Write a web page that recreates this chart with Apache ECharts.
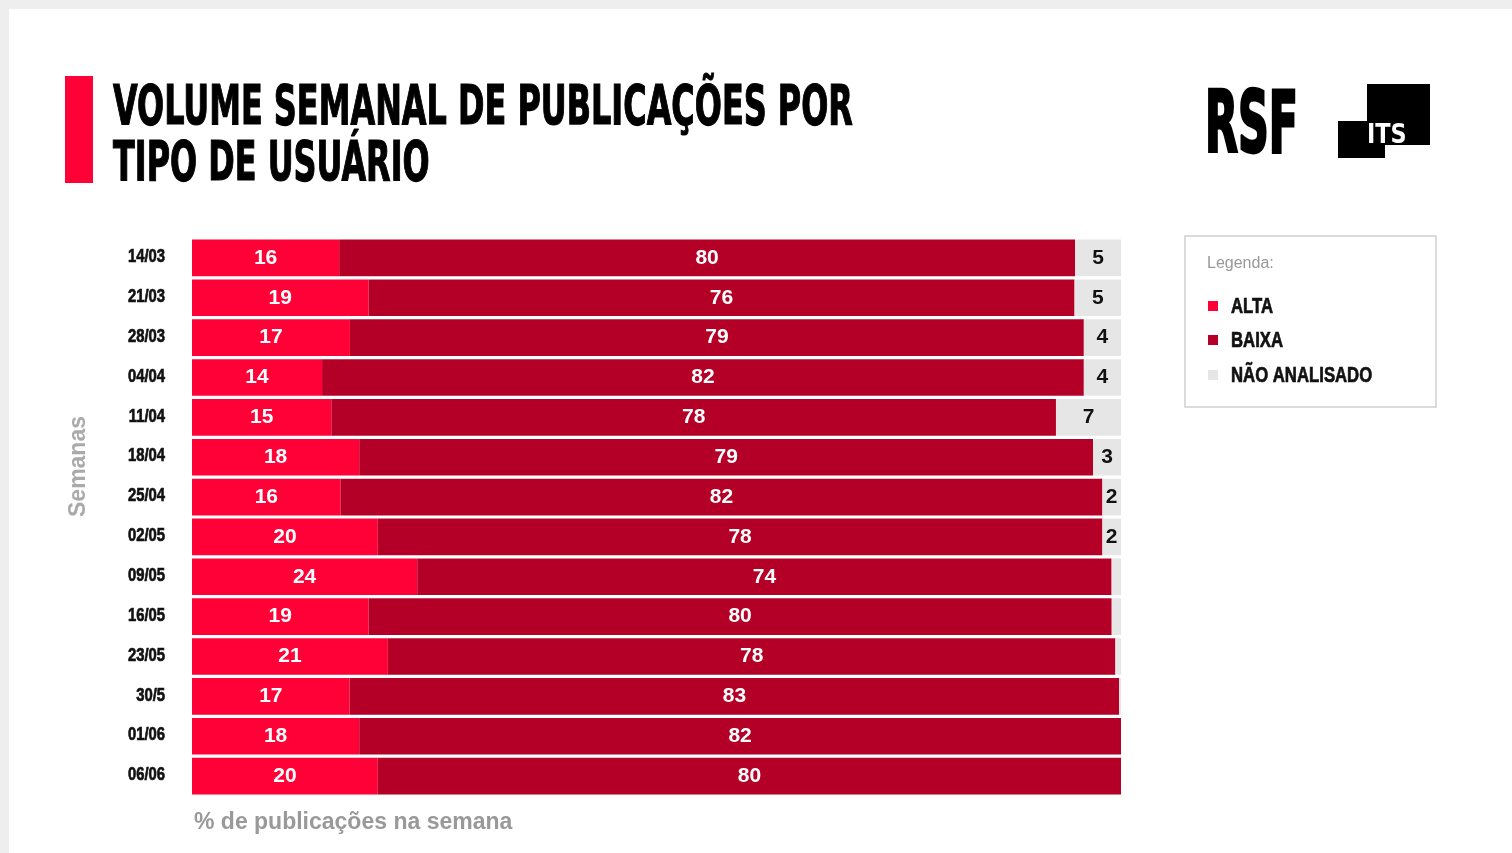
<!DOCTYPE html>
<html>
<head>
<meta charset="utf-8">
<script src="https://cdn.jsdelivr.net/npm/echarts@6/dist/echarts.min.js"></script>
<style>
  html, body { margin: 0; padding: 0; background: #eeeeee; }
  #chart { width: 1512px; height: 853px; }
</style>
</head>
<body>
<div id="chart"></div>
<script>
// Weekly share of posts by user type (percent, as published)
const weeks = ['14/03', '21/03', '28/03', '04/04', '11/04', '18/04', '25/04',
               '02/05', '09/05', '16/05', '23/05', '30/5', '01/06', '06/06'];
const alta = [16, 19, 17, 14, 15, 18, 16, 20, 24, 19, 21, 17, 18, 20];
const baixa = [80, 76, 79, 82, 78, 79, 82, 78, 74, 80, 78, 83, 82, 80];
const naoAnalisado = [5, 5, 4, 4, 7, 3, 2, 2, 1, 1, 0.6, 0.2, 0, 0];

const seriesNames = ['ALTA', 'BAIXA', 'NÃO ANALISADO'];
const colors = ['#ff0037', '#b40026', '#e6e6e6'];

const COND = "'DejaVu Sans Condensed', 'Liberation Sans', sans-serif";
const SANS = "'Liberation Sans', 'Helvetica', 'Arial', sans-serif";

// Each week is scaled to a full 100% bar; labels keep the published values.
const totals = weeks.map((_, i) => alta[i] + baixa[i] + naoAnalisado[i]);
const share = arr => arr.map((v, i) => v / totals[i] * 100);
const raw = [alta, baixa, naoAnalisado];

const chart = echarts.init(document.getElementById('chart'), null, { renderer: 'canvas' });

function makeSeries(k) {
  return {
    name: seriesNames[k],
    type: 'bar',
    stack: 'total',
    barCategoryGap: '8%',
    itemStyle: { color: colors[k] },
    emphasis: { disabled: true },
    label: {
      show: true,
      position: 'inside',
      color: k === 2 ? '#111111' : '#ffffff',
      fontFamily: SANS,
      fontWeight: 'bold',
      fontSize: 21,
      formatter: p => {
        const v = raw[k][p.dataIndex];
        if (k === 2 && v < 2) return '';
        return String(v);
      }
    },
    data: share(raw[k])
  };
}

// condensed heavy text helper (scaled horizontally around its anchor)
function condText(id, x, y, text, size, fill, sx, align) {
  return {
    type: 'text', id: id, x: x, y: y, scaleX: sx, originX: 0, originY: 0,
    style: {
      text: text, fill: fill, font: 'bold ' + size + 'px ' + SANS,
      stroke: fill, lineWidth: 0.7,
      textAlign: align || 'left', textVerticalAlign: 'middle'
    }
  };
}

const legendRows = [306, 340, 375];

const graphics = [
  // white card
  { type: 'rect', id: 'card', z: -10, shape: { x: 9, y: 9, width: 1503, height: 844 }, style: { fill: '#ffffff' } },
  // title accent
  { type: 'rect', id: 'accent', shape: { x: 65, y: 76, width: 28, height: 107 }, style: { fill: '#ff0037' } },
  {
    type: 'text', id: 'title', x: 113, y: 82, scaleX: 0.645, originX: 0,
    style: {
      text: 'VOLUME SEMANAL DE PUBLICAÇÕES POR\nTIPO DE USUÁRIO',
      fill: '#000000', stroke: '#000000', lineWidth: 1.2,
      font: "bold 55px " + COND,
      lineHeight: 56
    }
  },
  // RSF mark
  {
    type: 'text', id: 'rsf', x: 1205, y: 87, scaleX: 0.56, originX: 0,
    style: { text: 'RSF', fill: '#000000', stroke: '#000000', lineWidth: 3, font: "bold 85px " + COND }
  },
  // ITS mark
  { type: 'rect', id: 'itsBig', shape: { x: 1367, y: 84, width: 63, height: 61 }, style: { fill: '#000000' } },
  { type: 'rect', id: 'itsSmall', shape: { x: 1338, y: 121, width: 47, height: 37 }, style: { fill: '#000000' } },
  {
    type: 'text', id: 'its', x: 1367, y: 122, scaleX: 0.92, originX: 0,
    style: { text: 'ITS', fill: '#ffffff', font: "bold 27px " + COND }
  },
  // legend frame
  {
    type: 'rect', id: 'legFrame', shape: { x: 1185, y: 236, width: 251, height: 171 },
    style: { fill: 'none', stroke: '#d0d0d0', lineWidth: 1.5 }
  },
  {
    type: 'text', id: 'legTitle', x: 1207, y: 256,
    style: { text: 'Legenda:', fill: '#999999', font: "16px " + SANS }
  },
  // axis titles
  {
    type: 'text', id: 'yTitle', x: 67, y: 517, rotation: Math.PI / 2,
    style: { text: 'Semanas', fill: '#aaaaaa', font: "bold 23px " + SANS }
  },
  {
    type: 'text', id: 'xTitle', x: 194, y: 811,
    style: { text: '% de publicações na semana', fill: '#999999', font: "bold 23px " + SANS }
  }
];

// legend entries
seriesNames.forEach((name, k) => {
  graphics.push({
    type: 'rect', id: 'legSq' + k,
    shape: { x: 1208, y: legendRows[k] - 5, width: 10, height: 10 },
    style: { fill: colors[k] }
  });
  graphics.push(condText('legTx' + k, 1231, legendRows[k] + 1, name, 22, '#111111', 0.76));
});

const option = {
  backgroundColor: '#eeeeee',
  animation: false,
  grid: { left: 192, right: 391, top: 238, height: 558, containLabel: false },
  xAxis: { type: 'value', min: 0, max: 100, show: false },
  yAxis: {
    type: 'category',
    data: weeks,
    inverse: true,
    axisLine: { show: false },
    axisTick: { show: false },
    axisLabel: { show: false }
  },
  graphic: graphics,
  series: [makeSeries(0), makeSeries(1), makeSeries(2)]
};

chart.setOption(option);

// week labels placed from the category axis scale
const weekLabels = weeks.map((w, i) => {
  const y = chart.convertToPixel({ yAxisIndex: 0 }, w);
  return condText('wk' + i, 165, y - 1, w, 19, '#111111', 0.78, 'right');
});
chart.setOption({ graphic: weekLabels });
</script>
</body>
</html>
